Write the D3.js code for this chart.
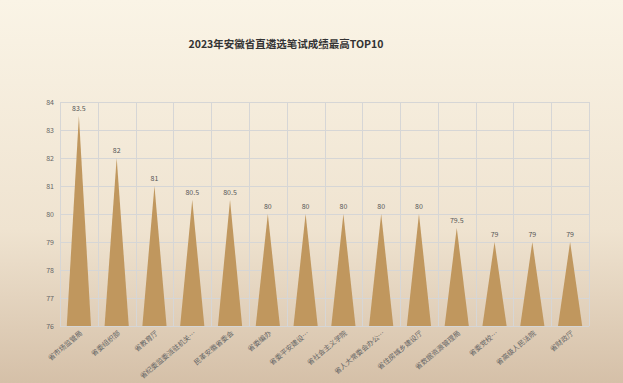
<!DOCTYPE html>
<html><head><meta charset="utf-8">
<script src="https://cdn.jsdelivr.net/npm/d3@7"></script>
<style>
html,body{margin:0;padding:0;}
body{width:623px;height:383px;overflow:hidden;}
text{font-family:"Noto Sans CJK SC","Noto Sans",sans-serif;}
</style></head>
<body>
<svg id="c" width="623" height="383"></svg>
<script>
const title = "2023年安徽省直遴选笔试成绩最高TOP10";
const categories = ["省市场监管局","省委组织部","省教育厅","省纪委监委派驻机关…","民革安徽省委会","省委编办","省委平安建设…","省社会主义学院","省人大常委会办公…","省住房城乡建设厅","省数据资源管理局","省委党校…","省高级人民法院","省财政厅"];
const values = [83.5,82,81,80.5,80.5,80,80,80,80,80,79.5,79,79,79];
const yTicks = [76,77,78,79,80,81,82,83,84];

const svg = d3.select("#c");
const W = 623, H = 383;
const defs = svg.append("defs");
const bg = defs.append("linearGradient").attr("id","bg").attr("x1",0).attr("y1",0).attr("x2",0).attr("y2",1);
bg.append("stop").attr("offset","0%").attr("stop-color","#faf4e6");
bg.append("stop").attr("offset","60%").attr("stop-color","#efe3d0");
bg.append("stop").attr("offset","100%").attr("stop-color","#d5c0a8");
svg.append("rect").attr("width",W).attr("height",H).attr("fill","url(#bg)");

const m = {l:60, r:W-589, t:102, b:H-326};
const x = d3.scaleBand().domain(categories).range([m.l, W-m.r]).padding(0);
const y = d3.scaleLinear().domain([76,84]).range([H-m.b, m.t]);

svg.append("text").attr("x",286).attr("y",48).attr("text-anchor","middle")
  .attr("font-size",10.5).attr("font-weight","bold").attr("fill","#333").text(title);

// grid
const grid = svg.append("g").attr("stroke","#d6d6d6").attr("stroke-width",1);
yTicks.forEach(t=>{
  grid.append("line").attr("x1",m.l).attr("x2",W-m.r).attr("y1",Math.round(y(t))+0.5).attr("y2",Math.round(y(t))+0.5);
});
categories.forEach(c=>{
  grid.append("line").attr("x1",Math.round(x(c))+0.5).attr("x2",Math.round(x(c))+0.5).attr("y1",m.t).attr("y2",H-m.b);
});
grid.append("line").attr("x1",W-m.r+0.5).attr("x2",W-m.r+0.5).attr("y1",m.t).attr("y2",H-m.b);

// y axis labels
const yAxis = d3.axisLeft(y).tickValues(yTicks).tickSize(0).tickPadding(6);
const ya = svg.append("g").attr("transform",`translate(${m.l},0)`).call(yAxis);
ya.select(".domain").remove();
ya.selectAll("text").attr("font-size",7).attr("fill","#666").attr("font-family","Noto Sans, sans-serif");

// triangles
const bw = x.bandwidth()*0.64;
svg.append("g").selectAll("path").data(values).join("path")
  .attr("d",(v,i)=>{
    const cx = x(categories[i]) + x.bandwidth()/2;
    const y0 = y(76), y1 = y(v);
    return `M${cx-bw/2},${y0}L${cx},${y1}L${cx+bw/2},${y0}Z`;
  })
  .attr("fill","#c0975e");

// value labels
svg.append("g").selectAll("text").data(values).join("text")
  .attr("x",(v,i)=>x(categories[i]) + x.bandwidth()/2)
  .attr("y",v=>y(v)-5)
  .attr("text-anchor","middle").attr("font-size",7).attr("fill","#555")
  .attr("font-family","Noto Sans, sans-serif")
  .text(v=>v);

// x labels
svg.append("g").selectAll("text").data(categories).join("text")
  .attr("transform",(c)=>`translate(${x(c)+x.bandwidth()/2+4},${H-m.b+8}) rotate(-40)`)
  .attr("text-anchor","end").attr("font-size",7).attr("fill","#666")
  .text(c=>c);
</script>
</body></html>
